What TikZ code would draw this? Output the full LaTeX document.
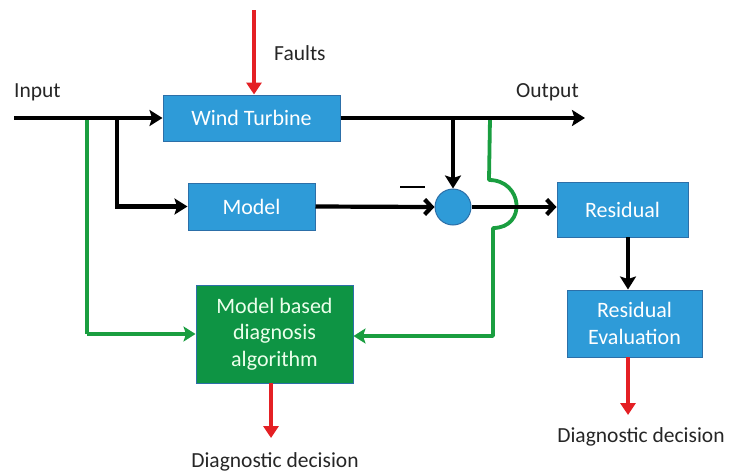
\documentclass[tikz,border=0pt]{standalone}
\usepackage{fontspec}
\setmainfont{Carlito}
\usetikzlibrary{arrows.meta,calc}
\definecolor{boxblue}{HTML}{2E9BD8}
\definecolor{boxedge}{HTML}{2C6FA8}
\definecolor{boxgreen}{HTML}{0E9444}
\definecolor{linegreen}{HTML}{1A9E40}
\definecolor{arrred}{HTML}{E42024}
\tikzset{
  blk/.style={draw=boxedge, line width=1pt, fill=boxblue, text=white, align=center,
    font=\fontsize{22}{26.5}\selectfont, inner sep=0pt},
  gblk/.style={draw=boxedge, line width=1pt, fill=boxgreen, text=white!92!green, align=center,
    font=\fontsize{22}{26.5}\selectfont, inner sep=0pt},
  lbl/.style={font=\fontsize{21.5}{26}\selectfont, text=black!85, inner sep=0pt},
  bline/.style={line width=4.2pt, black},
  gline/.style={line width=3.8pt, linegreen},
  rline/.style={line width=4.5pt, arrred},
  tri/.style={-{Stealth[length=13pt,width=16pt,inset=2.5pt]}},
  gtri/.style={-{Stealth[length=12pt,width=15pt,inset=2.5pt]}},
  rtri/.style={-{Triangle[length=12pt,width=15pt]}},
  barb/.style={-{Straight Barb[length=7pt,width=15pt]}},
  sumnode/.style={circle, draw=boxedge, line width=1pt, fill=boxblue, minimum size=36pt, inner sep=0pt}
}
\begin{document}
\begin{tikzpicture}[x=1pt,y=-1pt]
\useasboundingbox (0,0) rectangle (731,471);

% blocks
\node[blk, minimum width=177pt, minimum height=46pt] (wt) at (251.5,118) {Wind Turbine};
\node[blk, minimum width=127pt, minimum height=47pt] (model) at (251.5,206.5) {Model};
\node[sumnode] (sum) at (453,207) {};
\node[blk, minimum width=131pt, minimum height=55pt] (res) at (622.5,209.5) {Residual};
\node[blk, minimum width=135pt, minimum height=67pt] (reval) at (634.5,323.5) {Residual\\Evaluation};
\node[gblk, minimum width=157pt, minimum height=98pt] (mbd) at (274.5,334) {Model based\\diagnosis\\algorithm};

% labels
\node[lbl, anchor=base west] (inp) at (14,97) {Input};
\node[lbl, anchor=base west] (flt) at (274,60) {Faults};
\node[lbl, anchor=base west] (out) at (516,97) {Output};
\node[lbl, anchor=base] (dd1) at (275,467) {Diagnostic decision};
\node[lbl, anchor=base] (dd2) at (641,442) {Diagnostic decision};

% coordinates
\coordinate (in0) at (14,118);
\coordinate (out1) at (585,118);
\coordinate (gsplit) at (87,118);
\coordinate (bsplit) at (117,118);
\coordinate (osplit) at (453,118);
\coordinate (gout) at (490,118);
\coordinate (gtop) at (489,180);
\coordinate (gbot) at (493,228);
\coordinate (gcorner) at (493,336);
\coordinate (ftop) at (254,10);
\coordinate (ms1) at (400,187);
\coordinate (ms2) at (425,187);
\coordinate (ra) at (628,237);
\coordinate (rb) at (271,383);
\coordinate (rc) at (628,357);

% green connectors (behind black)
\draw[gline] (gsplit) -- (gsplit |- mbd.west) coordinate (gl);
\draw[gline, gtri] (gl) -- (mbd.west);
\draw[gline, gtri, line join=round]
  (gout) -- (gtop) .. controls (523,180) and (527,228) .. (gbot) -- (gcorner) -- (gcorner -| mbd.east);

% black connectors
\draw[bline, tri] (in0) -- (wt.west);
\draw[bline, tri] (bsplit) |- (model.west);
\draw[bline, tri] (wt.east) -- (out1);
\draw[bline, tri] (osplit) -- (sum.north);
\draw[bline, barb] (model.east) -- (sum.west);
\draw[bline, barb] (sum.east) -- (sum.east -| res.west);
\draw[bline, tri] (ra) -- (ra |- reval.north);
\draw[line width=2pt, black] (ms1) -- (ms2);

% red arrows
\draw[rline, rtri] (ftop) -- (ftop |- wt.north);
\draw[rline, rtri] (rb) -- (271,438);
\draw[rline, rtri] (rc) -- (628,415);
\end{tikzpicture}
\end{document}
